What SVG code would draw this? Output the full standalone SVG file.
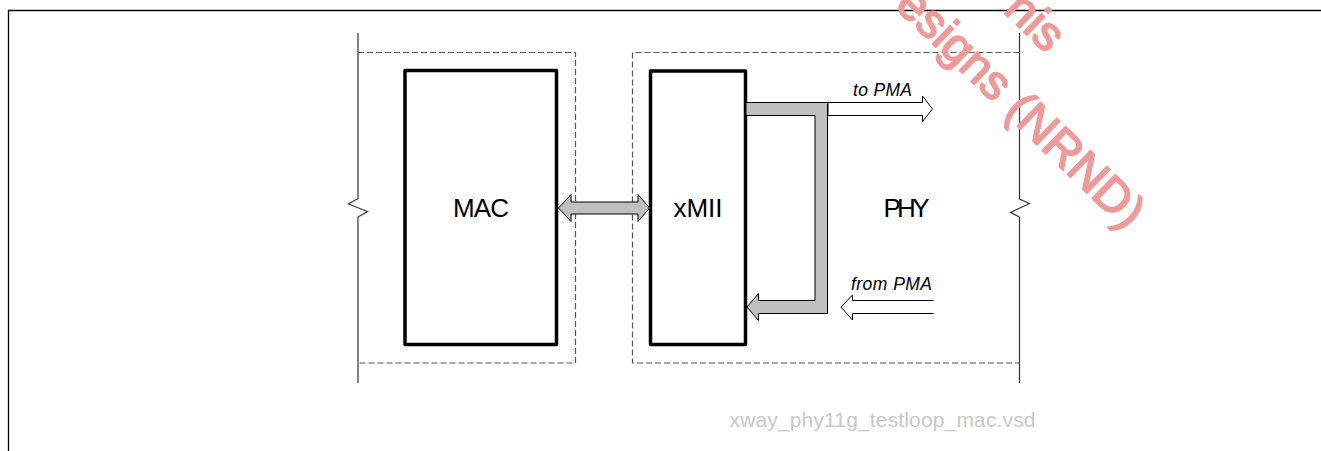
<svg xmlns="http://www.w3.org/2000/svg" width="1321" height="451" viewBox="0 0 1321 451">
<style>
.frame{fill:none;stroke:#000;stroke-width:1.3}
.vline{fill:none;stroke:#333;stroke-width:1.2}
.dash{fill:none;stroke:#555;stroke-width:1.2;stroke-dasharray:6 3}
.block{fill:#fff;stroke:#000;stroke-width:3.5;stroke-linejoin:round}
.gray{fill:#c0c0c0;stroke:#000;stroke-width:1}
.white{fill:#fff;stroke:#000;stroke-width:1}
.lbl{font-family:"Liberation Sans",Arial,sans-serif;font-size:26px;fill:#000}
.small{font-family:"Liberation Sans",Arial,sans-serif;font-size:17.5px;font-style:italic;fill:#000}
.foot{font-family:"Liberation Sans",Arial,sans-serif;font-size:21px;fill:#c8c8c8}
.wm{font-family:"Liberation Sans",Arial,sans-serif;font-size:48px;fill:#ef9999;stroke:#ef9999;stroke-width:1.8;stroke-linejoin:round}
</style>
<rect width="1321" height="451" fill="#fff"/>
<path class="frame" d="M8.5,451 V10.5 H1321"/>
<g id="regions">
<path class="vline" d="M358,33 V198.5 L348.5,204 L367.5,211.5 L358,217 V383"/>
<path class="vline" d="M1019.5,33 V199 L1029.5,203.5 L1010.5,212.5 L1019.5,217 V383"/>
<path class="dash" d="M358,52.5 H575.5 V363 H358"/>
<path class="dash" d="M1019.5,52.5 H632.5 V363 H1019.5"/>
</g>
<g id="mac">
<rect class="block" x="405" y="70.5" width="151.5" height="274"/>
<text class="lbl" x="481" y="217" text-anchor="middle" textLength="56">MAC</text>
</g>
<g id="xmii">
<rect class="block" x="650.5" y="71" width="95" height="273.5"/>
<text class="lbl" x="698" y="217" text-anchor="middle">xMII</text>
</g>
<g id="phy">
<text class="lbl" x="883.5" y="217" textLength="46">PHY</text>
</g>
<g id="connectors">
<polygon class="gray" points="558.5,208 571,194.5 571,202 638,202 638,194.5 649.5,208 638,221.5 638,214 571,214 571,221.5"/>
<polygon class="gray" points="746,102.5 827.5,102.5 827.5,313.5 758.5,313.5 758.5,320.5 747,307 758.5,293.5 758.5,300.5 815,300.5 815,115.5 746,115.5"/>
<polygon class="white" points="828,102.5 922.5,102.5 922.5,96 932.5,109 922.5,121.5 922.5,115.5 828,115.5"/>
<path class="white" d="M934,300.5 H852.5 V295 L841,307 L852.5,320 V313.5 H934"/>
<path d="M934,300.5 V313.5" stroke="#fff" stroke-width="1.5"/>
<text class="small" x="853" y="96" textLength="59">to PMA</text>
<text class="small" x="851" y="289.5" textLength="81">from PMA</text>
</g>
<text class="foot" x="729.5" y="427" textLength="306">xway_phy11g_testloop_mac.vsd</text>
<g transform="translate(1126,231) rotate(44)">
<text class="wm" x="0" y="0" text-anchor="end">esigns (NRND)</text>
<text class="wm" x="-180" y="-72" text-anchor="end">nis</text>
</g>
</svg>
